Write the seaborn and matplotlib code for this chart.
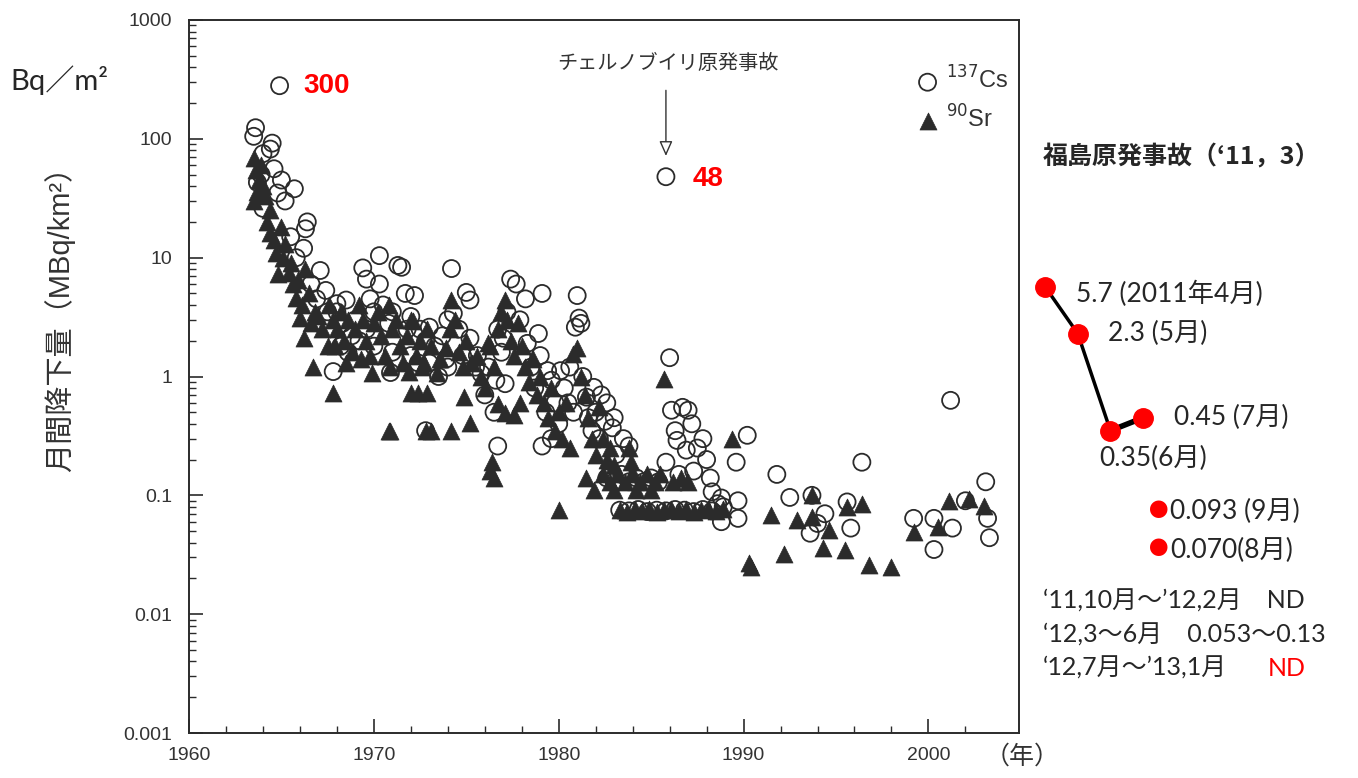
import numpy as np
import pandas as pd
import seaborn as sns
import matplotlib.pyplot as plt

# 137Cs monthly deposition (year, MBq/km2)
cs_year = [
    1964.9,
    1963.6, 1963.5, 1964.5, 1964.4, 1964.0, 1964.6, 1963.7, 1963.9, 1965.7, 1964.0,
    1965.2, 1964.8, 1965.0, 1966.4, 1966.3, 1966.2, 1965.5, 1965.8, 1967.1, 1967.4,
    1968.0, 1967.8, 1966.6, 1966.9, 1967.5,
    # 1968-1975
    1968.0, 1968.3, 1968.5, 1968.8, 1969.0, 1969.4, 1969.6, 1969.8, 1970.0, 1970.3,
    1970.3, 1970.5, 1970.8, 1971.0, 1971.3, 1971.5, 1971.7, 1972.0, 1972.2, 1972.5,
    1972.8, 1973.0, 1973.3, 1973.7, 1974.0, 1974.2, 1974.3, 1974.6, 1975.0, 1975.2,
    1975.2, 1969.2, 1970.0, 1971.0, 1972.0, 1973.0, 1974.0, 1970.9, 1968.6, 1972.8,
    1975.5, 1971.8, 1969.6, 1968.2, 1973.5, 1974.8, 1973.9, 1972.4,
    # 1975-1980
    1977.4, 1977.7, 1979.1, 1978.2, 1977.2, 1976.7, 1977.0, 1978.3, 1978.9, 1976.6,
    1975.8, 1977.1, 1979.4, 1979.6, 1976.7, 1978.5, 1978.0, 1979.0, 1979.8, 1980.0,
    1979.3, 1978.7, 1976.2, 1976.0, 1975.6, 1976.5, 1977.9, 1976.9, 1979.6, 1979.1,
    # 1980-1983
    1981.0, 1981.1, 1980.9, 1981.2, 1980.6, 1980.1, 1981.9, 1982.6, 1981.5, 1982.9,
    1983.1, 1980.3, 1980.5, 1980.8, 1981.3, 1981.6, 1982.0, 1982.3, 1982.5, 1983.0,
    1983.5, 1983.8, 1982.2, 1981.8,
    # 1983-1989 (Chernobyl)
    1985.8, 1986.0, 1986.1, 1986.7, 1987.0, 1986.3, 1986.4, 1986.9, 1987.5, 1985.8,
    1986.5, 1987.3, 1988.3, 1988.8, 1987.8, 1987.2, 1988.0, 1988.2,
    1982.6, 1983.0, 1983.4, 1983.8, 1984.2, 1984.6, 1985.0, 1985.4,
    1983.3, 1983.8, 1984.3, 1984.8, 1985.3, 1985.8, 1986.3, 1986.8, 1987.3, 1987.8,
    1988.3, 1988.6, 1988.9,
    # 1989-2004
    1989.7, 1989.7, 1988.8, 1990.2, 1989.6, 1991.8, 1992.5, 1993.7, 1994.4, 1993.6,
    1995.6, 1995.8, 1996.4, 2001.2, 1999.2, 2000.3, 2000.3, 2001.3, 2003.1, 2003.2,
    2003.3, 1994.0, 2002.0,
]
cs_val = [
    280,
    124, 105, 92, 82, 75, 56, 43, 50, 38, 26,
    30, 35, 45, 20, 17.5, 12, 15, 10, 7.8, 5.3,
    4.1, 1.1, 6.0, 4.5, 3.5,
    3.5, 2.8, 4.4, 2.2, 3.0, 8.2, 6.6, 4.5, 3.5, 10.4,
    6.0, 4.0, 2.8, 3.5, 8.6, 8.3, 5.0, 3.2, 4.8, 2.5,
    2.0, 2.6, 1.8, 2.2, 3.0, 8.1, 3.4, 2.5, 5.1, 4.4,
    2.1, 2.0, 1.8, 1.6, 1.5, 1.3, 1.2, 1.08, 1.6, 0.35,
    1.2, 2.5, 2.5, 1.8, 1.0, 1.5, 1.4, 1.3,
    6.6, 6.0, 5.0, 4.5, 3.5, 2.5, 2.1, 1.9, 2.3, 0.93,
    1.06, 0.87, 1.12, 0.93, 0.26, 1.2, 1.5, 1.5, 0.6, 0.4,
    0.5, 0.8, 1.2, 0.7, 1.5, 0.5, 3.0, 1.6, 0.3, 0.26,
    4.8, 3.1, 2.6, 2.8, 1.2, 1.12, 0.81, 0.6, 0.67, 0.37,
    0.22, 0.8, 0.6, 0.5, 1.0, 0.45, 0.5, 0.7, 0.42, 0.45,
    0.3, 0.26, 0.3, 0.35,
    48, 1.44, 0.52, 0.55, 0.52, 0.35, 0.29, 0.24, 0.25, 0.19,
    0.15, 0.16, 0.107, 0.095, 0.3, 0.4, 0.2, 0.14,
    0.14, 0.13, 0.15, 0.13, 0.14, 0.13, 0.14, 0.13,
    0.075, 0.074, 0.076, 0.073, 0.075, 0.074, 0.076, 0.075, 0.073, 0.076,
    0.074, 0.085, 0.08,
    0.09, 0.064, 0.06, 0.32, 0.19, 0.15, 0.096, 0.1, 0.07, 0.048,
    0.088, 0.053, 0.19, 0.63, 0.064, 0.064, 0.035, 0.053, 0.13, 0.064,
    0.044, 0.058, 0.09,
]

# 90Sr monthly deposition
sr_year = [
    1963.5, 1963.6, 1963.8, 1963.7, 1963.5, 1964.0, 1964.4, 1964.2, 1964.4, 1964.7,
    1964.8, 1965.2, 1965.5, 1965.0, 1965.6, 1965.8, 1966.0, 1966.2, 1966.5, 1966.8,
    1966.7, 1967.8, 1967.2, 1967.5, 1966.3, 1965.9,
    1963.9, 1964.1, 1964.6, 1965.1, 1965.4, 1966.1, 1966.6, 1967.0,
    # 1968-1975
    1967.6, 1967.8, 1968.0, 1968.2, 1968.4, 1968.6, 1968.8, 1969.0, 1969.2, 1969.4,
    1969.6, 1969.8, 1970.0, 1970.2, 1970.4, 1970.6, 1970.8, 1971.0, 1971.2, 1971.4,
    1971.6, 1971.8, 1972.0, 1972.1, 1972.3, 1972.5, 1972.7, 1972.9, 1973.1, 1973.4,
    1973.6, 1973.9, 1974.1, 1974.2, 1974.4, 1974.6, 1974.8, 1975.0, 1975.3, 1969.9,
    1968.5, 1967.9, 1969.3, 1970.9, 1971.9, 1972.6,
    1970.8, 1970.9, 1972.8, 1973.1, 1974.2, 1972.0, 1972.4, 1972.9, 1974.9, 1975.2,
    1976.4, 1976.5, 1976.3,
    # 1975-1980
    1975.6, 1975.8, 1976.0, 1976.2, 1976.3, 1976.5, 1976.7, 1976.9, 1977.1, 1977.2,
    1977.4, 1977.6, 1977.8, 1978.0, 1978.2, 1978.4, 1978.6, 1978.8, 1979.0, 1979.2,
    1979.4, 1979.6, 1979.8, 1980.0, 1977.1, 1977.6, 1976.7, 1980.0, 1977.9,
    # 1980-1983
    1980.2, 1980.4, 1980.6, 1980.8, 1981.0, 1981.2, 1981.4, 1981.6, 1981.8, 1982.0,
    1982.2, 1982.4, 1982.6, 1982.8, 1983.0, 1981.5, 1981.9, 1983.8, 1983.9,
    # 1982-1989 bands
    1982.4, 1982.8, 1983.2, 1983.6, 1984.0, 1984.4, 1984.8, 1985.2, 1985.5, 1986.2,
    1986.6, 1987.0, 1983.0, 1984.2, 1985.0,
    1983.3, 1983.7, 1984.1, 1984.5, 1984.9, 1985.3, 1985.7, 1986.1, 1986.5, 1986.9,
    1987.3, 1987.7, 1988.1, 1988.5, 1988.9,
    1985.7, 1989.4,
    # 1990-2004
    1990.3, 1990.4, 1991.5, 1992.2, 1992.9, 1993.7, 1993.7, 1994.6, 1994.3, 1995.5,
    1995.6, 1996.4, 1996.8, 1998.0, 1999.2, 2000.5, 2001.1, 2002.2, 2003.0,
]
sr_val = [
    69, 55, 45, 36, 30, 40, 25, 20, 16, 11,
    7.3, 13, 9.0, 18, 6.0, 4.6, 3.1, 2.1, 5.0, 3.5,
    1.2, 0.72, 2.5, 1.8, 8.0, 6.5,
    60, 33, 14, 10, 7.5, 4.0, 2.8, 3.2,
    4.0, 3.0, 2.5, 3.5, 2.0, 3.0, 1.6, 2.5, 4.0, 3.0,
    2.0, 1.5, 2.8, 3.5, 2.2, 1.5, 4.0, 2.5, 3.0, 1.8,
    1.3, 2.2, 3.0, 2.95, 1.5, 2.0, 1.3, 2.5, 1.8, 1.08,
    1.4, 1.75, 2.5, 4.4, 3.0, 1.6, 1.2, 2.0, 1.3, 1.08,
    1.3, 1.8, 1.4, 1.2, 1.1, 1.2,
    0.35, 0.35, 0.35, 0.35, 0.35, 0.72, 0.72, 0.72, 0.67, 0.41,
    0.19, 0.14, 0.16,
    1.5, 1.0, 0.8, 1.93, 1.8, 1.2, 2.5, 3.5, 4.4, 3.0,
    2.0, 1.5, 2.8, 1.8, 1.2, 0.9, 1.4, 0.7, 1.0, 0.6,
    0.45, 0.8, 0.35, 0.5, 0.49, 0.47, 0.59, 0.075, 0.6,
    0.3, 0.6, 0.25, 1.56, 1.75, 1.0, 0.7, 0.45, 0.3, 0.22,
    0.55, 0.3, 0.2, 0.25, 0.18, 0.14, 0.11, 0.25, 0.19,
    0.15, 0.13, 0.15, 0.13, 0.15, 0.13, 0.15, 0.13, 0.15, 0.13,
    0.14, 0.13, 0.11, 0.11, 0.11,
    0.075, 0.073, 0.077, 0.074, 0.076, 0.073, 0.075, 0.077, 0.074, 0.076,
    0.073, 0.075, 0.077, 0.074, 0.076,
    0.96, 0.3,
    0.027, 0.025, 0.068, 0.032, 0.062, 0.1, 0.066, 0.051, 0.036, 0.035,
    0.08, 0.085, 0.026, 0.025, 0.049, 0.054, 0.09, 0.094, 0.082,
]

# Fukushima 2011 monthly values (Bq/m2)
fk_month = [4, 5, 6, 7]
fk_val = [5.7, 2.3, 0.35, 0.45]
fk_labels = ["5.7 (2011年4月)", "2.3 (5月)", "0.35(6月)", "0.45 (7月)"]

cs = pd.DataFrame({"year": cs_year, "val": cs_val})
sr = pd.DataFrame({"year": sr_year, "val": sr_val})

sns.set_style("white")
plt.rcParams["font.family"] = ["Liberation Sans", "Noto Sans CJK JP", "DejaVu Sans"]

ink = "#2b2b2b"
fig = plt.figure(figsize=(13.58, 7.78), dpi=100)
ax = fig.add_axes([189 / 1358, 45 / 778, 830 / 1358, 713 / 778])

sns.scatterplot(data=sr, x="year", y="val", ax=ax, marker="^", s=150,
                color=ink, edgecolor=ink, linewidth=0.5, label="$^{90}$Sr", zorder=2)
sns.scatterplot(data=cs, x="year", y="val", ax=ax, marker="o", s=150,
                facecolor="none", edgecolor=ink, linewidth=1.3, label="$^{137}$Cs", zorder=3)

ax.set_yscale("log")
ax.set_ylim(0.001, 1000)
ax.set_xlim(1960, 2004.9)
ax.set_xticks([1960, 1970, 1980, 1990, 2000])
ax.set_xticks(np.arange(1962, 2004, 2), minor=True)
ax.set_yticks([0.001, 0.01, 0.1, 1, 10, 100, 1000])
ax.set_yticklabels(["0.001", "0.01", "0.1", "1", "10", "100", "1000"])
ax.tick_params(which="major", direction="in", length=10, width=1.2, color=ink,
               labelsize=14, labelcolor="#333333")
ax.tick_params(which="minor", direction="in", length=5, width=1, color=ink)
ax.tick_params(axis="x", pad=10)
ax.tick_params(axis="y", pad=12, left=True, which="both")
ax.tick_params(axis="x", bottom=True, which="both")
for sp in ax.spines.values():
    sp.set_color(ink)
    sp.set_linewidth(1.4)
ax.set_xlabel("")
ax.set_ylabel("月間降下量（MBq/km²）", fontsize=21, color="#333333")
ax.yaxis.set_label_coords(-0.137, 0.59)

h, l = ax.get_legend_handles_labels()
ax.legend(h[::-1], l[::-1], loc="upper left", bbox_to_anchor=(0.85, 0.965), frameon=False,
          fontsize=17, handlelength=1.0, handletextpad=0.3, labelspacing=0.5,
          labelcolor="#333333")

# annotations
ax.annotate("300", xy=(1964.9, 280), xytext=(17, 0), textcoords="offset points",
            va="center", ha="left", color="red", fontsize=20, fontweight="bold")
ax.annotate("48", xy=(1985.8, 48), xytext=(19, -2), textcoords="offset points",
            va="center", ha="left", color="red", fontsize=20, fontweight="bold")
ax.annotate("", xy=(1985.8, 68), xytext=(1985.8, 270),
            arrowprops=dict(arrowstyle="-|>,head_length=0.9,head_width=0.4",
                            fc="white", ec="#333333", lw=1))
ax.text(1985.9, 430, "チェルノブイリ原発事故", ha="center", va="center",
        fontsize=14.5, color="#333333")

lat = ["Lato", "Noto Sans CJK JP", "DejaVu Sans"]
cjk = ["Noto Sans CJK JP"]
fig.text(10 / 1358, 1 - 80 / 778, "Bq／m²", fontsize=21, va="center", family=lat)
fig.text(985 / 1358, 1 - 757 / 778, "（年）", fontsize=18, va="center", color="#333333",
         family=cjk)

# Fukushima panel on the same log scale
ax2 = fig.add_axes([1030 / 1358, 45 / 778, 328 / 1358, 713 / 778])
ax2.set_yscale("log")
ax2.set_ylim(0.001, 1000)
ax2.set_xlim(3.54, 13.57)
ax2.axis("off")
ax2.plot(fk_month[:3], fk_val[:3], color="black", lw=2.5, zorder=1)
ax2.plot(fk_month[2:], fk_val[2:], color="black", lw=4, zorder=1)
ax2.plot(fk_month, fk_val, "o", color="red", ms=14, zorder=2)
offs = [(22, -5), (22, 0), (-8, -20), (22, 0)]
for m, v, t, o in zip(fk_month, fk_val, fk_labels, offs):
    ax2.annotate(t, xy=(m, v), xytext=o, textcoords="offset points", va="center",
                 ha="left", fontsize=19, family=lat)

fig.text(1043 / 1358, 1 - 157 / 778, "福島原発事故（‘11，3）", fontsize=18,
         fontweight="bold", va="center", family=cjk)
fig.text(1149 / 1358, 1 - 511 / 778, "●", color="red", fontsize=14, va="center", family=cjk)
fig.text(1170 / 1358, 1 - 511 / 778, "0.093 (9月)", fontsize=19, va="center", family=lat)
fig.text(1149 / 1358, 1 - 550 / 778, "●", color="red", fontsize=14, va="center", family=cjk)
fig.text(1170 / 1358, 1 - 550 / 778, "0.070(8月)", fontsize=19, va="center", family=lat)
fig.text(1043 / 1358, 1 - 601 / 778, "‘11,10月～’12,2月　ND", fontsize=18, va="center", family=lat)
fig.text(1043 / 1358, 1 - 635 / 778, "‘12,3～6月　0.053～0.13", fontsize=18, va="center", family=lat)
fig.text(1043 / 1358, 1 - 668 / 778, "‘12,7月～’13,1月", fontsize=18, va="center", family=lat)
fig.text(1268 / 1358, 1 - 668 / 778, "ND", fontsize=18, va="center", color="red", family=lat)

fig.savefig("out.png", dpi=100)
